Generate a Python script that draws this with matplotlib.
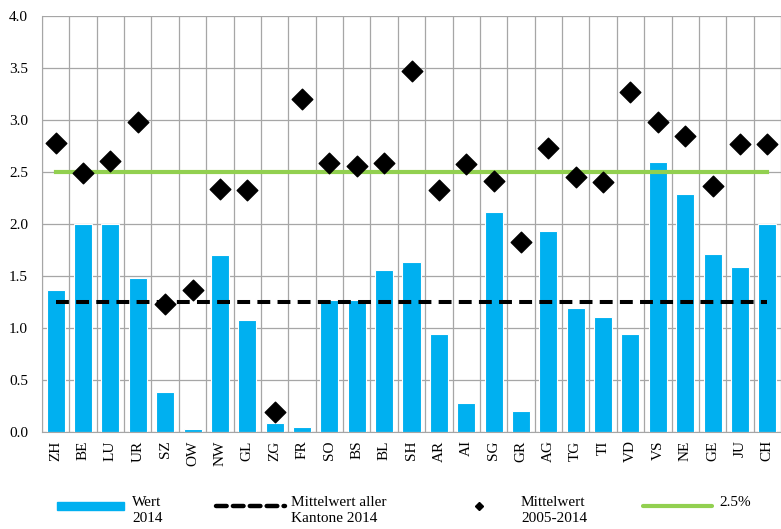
import numpy as np
import matplotlib.pyplot as plt
from matplotlib.lines import Line2D
from matplotlib.patches import Rectangle

plt.rcParams['font.family'] = ['Liberation Serif', 'DejaVu Serif']

kantone = ["ZH", "BE", "LU", "UR", "SZ", "OW", "NW", "GL", "ZG", "FR", "SO", "BS", "BL", "SH",
           "AR", "AI", "SG", "GR", "AG", "TG", "TI", "VD", "VS", "NE", "GE", "JU", "CH"]
wert_2014 = [1.37, 2.00, 2.00, 1.48, 0.38, 0.03, 1.70, 1.08, 0.09, 0.05, 1.27, 1.27, 1.56, 1.63,
             0.94, 0.28, 2.12, 0.20, 1.93, 1.19, 1.11, 0.94, 2.60, 2.29, 1.71, 1.59, 2.00]
mittel_2005_2014 = [2.78, 2.49, 2.61, 2.98, 1.23, 1.37, 2.34, 2.33, 0.19, 3.20, 2.59, 2.56, 2.59, 3.47,
                    2.33, 2.58, 2.41, 1.83, 2.73, 2.45, 2.40, 3.27, 2.98, 2.85, 2.37, 2.77, 2.77]
mittel_alle = 1.25
schwelle = 2.5

W, H = 781, 529
blau = '#00B0F0'
gruen = '#92D050'
grau = '#A6A6A6'

fig = plt.figure(figsize=(W / 100, H / 100), dpi=100)
ax = fig.add_axes([42 / W, (H - 432) / H, 1 - 42 / W, (432 - 16) / H])

x = np.arange(len(kantone))
ax.bar(x, wert_2014, width=0.66, color=blau, edgecolor='white', linewidth=0.8, zorder=2)
ax.plot([x[0], x[-1]], [mittel_alle, mittel_alle], color='black', lw=2.9,
        dashes=(3.2, 1.8), zorder=3)
ax.plot([x[0], x[-1]], [schwelle, schwelle], color=gruen, lw=3, zorder=3)
ax.scatter(x, mittel_2005_2014, marker='D', s=110, color='black', zorder=4)

ax.set_ylim(0, 4.0)
ax.set_xlim(-0.5, 26.37)
yt = np.arange(0, 4.01, 0.5)
ax.set_yticks(yt)
ax.set_yticklabels([f"{v:.1f}" for v in yt], fontsize=11)
ax.set_xticks(x)
ax.set_xticklabels(kantone, rotation=90, fontsize=11)
ax.set_xticks(np.arange(-0.5, 27, 1), minor=True)
ax.tick_params(axis='x', which='both', length=0, pad=6)
ax.tick_params(axis='y', length=0, pad=10)
ax.grid(axis='y', color=grau, lw=0.9, zorder=0)
ax.grid(axis='x', which='minor', color=grau, lw=0.9, zorder=0)
ax.grid(axis='x', which='major', visible=False)
ax.set_axisbelow(True)
for s in ['top', 'right']:
    ax.spines[s].set_visible(False)
ax.spines['left'].set_color(grau)
ax.spines['bottom'].set_color(grau)

# Legende unten, von Hand gesetzt
def px(xp, yp):
    return xp / W, 1 - yp / H

ly = 506
fs = 11
fig.patches.append(Rectangle(px(57, ly + 4), 67 / W, 8 / H, transform=fig.transFigure,
                             color=blau, figure=fig))
fig.lines.append(Line2D([px(216, 0)[0], px(285, 0)[0]], [px(0, ly)[1]] * 2, transform=fig.transFigure,
                        color='black', lw=3.2, dashes=(2.4, 1.4), dash_capstyle='round', figure=fig))
fig.lines.append(Line2D([px(479, 0)[0]], [px(0, ly)[1]], transform=fig.transFigure, color='black',
                        marker='D', markersize=4, ls='none', figure=fig))
fig.lines.append(Line2D([px(643, 0)[0], px(712, 0)[0]], [px(0, ly)[1]] * 2, transform=fig.transFigure,
                        color=gruen, lw=3, solid_capstyle='round', figure=fig))
legend_texte = [(132, "Wert\n2014"), (291, "Mittelwert aller\nKantone 2014"),
                (521, "Mittelwert\n2005-2014"), (719, "2.5%")]
for xp, t in legend_texte:
    fig.text(*px(xp, 496), t, fontsize=fs, va='top', ha='left', linespacing=1.25)

fig.savefig("out.png", dpi=100)
